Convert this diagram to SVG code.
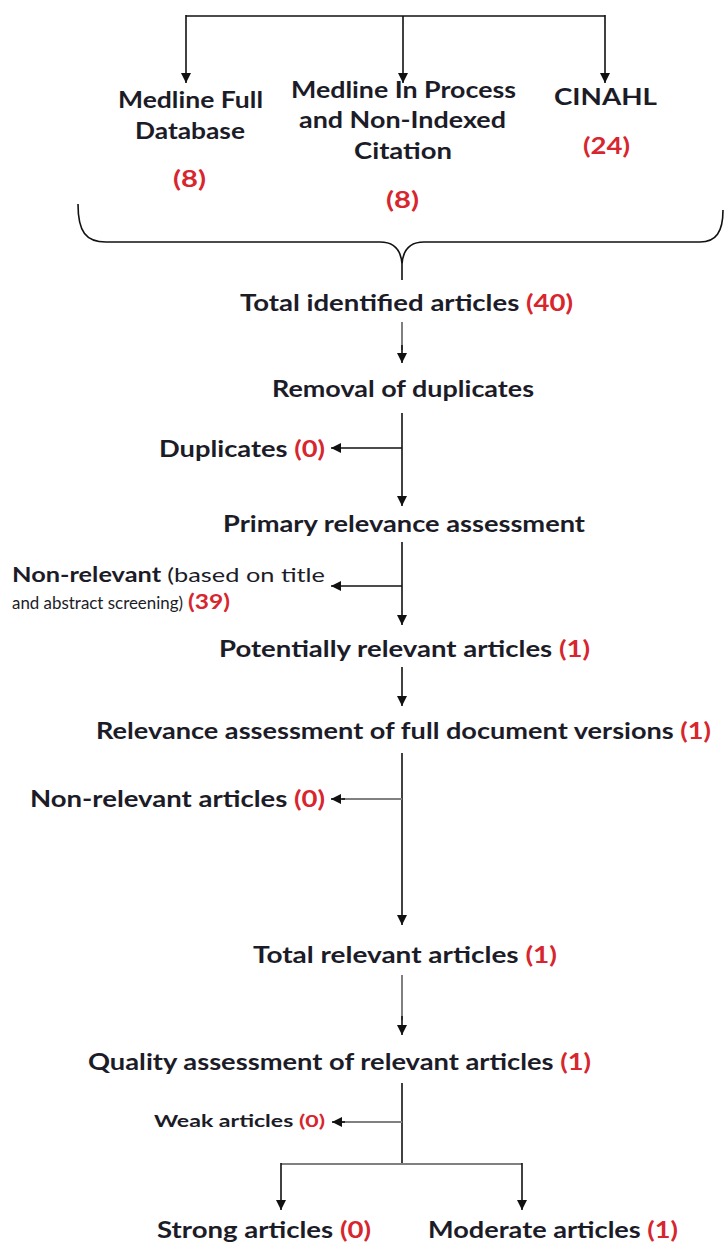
<svg xmlns="http://www.w3.org/2000/svg" width="724" height="1243" viewBox="0 0 724 1243">
<defs>
<style>
.s{font-family:Lato,"Liberation Sans",sans-serif;font-weight:bold;font-size:23px;fill:#1c1c28}
.n{font-weight:normal}
.r{fill:#d7262e}
.ln{fill:none;stroke:#111;stroke-width:1.6}
.lg{fill:none;stroke:#808080;stroke-width:2}
</style>
<marker id="ah" viewBox="0 0 10 10" refX="10" refY="5" markerWidth="10" markerHeight="10" markerUnits="userSpaceOnUse" orient="auto">
<path d="M0,0 L10,5 L0,10 Z" fill="#111"/>
</marker>
</defs>
<rect width="724" height="1243" fill="#fff"/>
<g id="connectors">
<path class="ln" d="M186,16 L605,16"/>
<path class="ln" d="M186,15 L186,83" marker-end="url(#ah)"/>
<path class="ln" d="M403,16 L403,83" marker-end="url(#ah)"/>
<path class="ln" d="M605,15 L605,83" marker-end="url(#ah)"/>
<path class="ln" d="M78,204 C78,232 86,242 106,242 L380,242 C394,242 401,250 402,264 L402,280 M402,264 C403,250 410,242 424,242 L700,242 C716,242 723,232 723,210"/>
<path class="lg" d="M402,322 L402,350"/>
<path class="ln" d="M402,345 L402,363" marker-end="url(#ah)"/>
<path class="ln" d="M402,413 L402,506" marker-end="url(#ah)"/>
<path class="ln" d="M402,448 L331,448" marker-end="url(#ah)"/>
<path class="ln" d="M402,542 L402,625" marker-end="url(#ah)"/>
<path class="ln" d="M402,586 L331,586" marker-end="url(#ah)"/>
<path class="ln" d="M402,667 L402,706" marker-end="url(#ah)"/>
<path class="ln" d="M402,753 L402,925" marker-end="url(#ah)"/>
<path class="lg" d="M402,799 L342,799"/>
<path class="ln" d="M345,799 L331,799" marker-end="url(#ah)"/>
<path class="lg" d="M402,975 L402,1020"/>
<path class="ln" d="M402,1016 L402,1035" marker-end="url(#ah)"/>
<path class="ln" d="M402,1083 L402,1164"/>
<path class="lg" d="M402,1122 L342,1122"/>
<path class="ln" d="M345,1122 L332,1122" marker-end="url(#ah)"/>
<path class="lg" d="M281,1164 L522,1164"/>
<path class="ln" d="M281,1163 L281,1210" marker-end="url(#ah)"/>
<path class="ln" d="M522,1163 L522,1210" marker-end="url(#ah)"/>
</g>
<g id="medline-full">
<text class="s" x="118" y="108" textLength="145" lengthAdjust="spacingAndGlyphs">Medline Full</text>
<text class="s" x="135" y="139" textLength="110" lengthAdjust="spacingAndGlyphs">Database</text>
<text class="s r" x="173" y="187" textLength="33" lengthAdjust="spacingAndGlyphs">(8)</text>
</g>
<g id="medline-in-process">
<text class="s" x="291" y="98" textLength="225" lengthAdjust="spacingAndGlyphs">Medline In Process</text>
<text class="s" x="299" y="128" textLength="207" lengthAdjust="spacingAndGlyphs">and Non-Indexed</text>
<text class="s" x="354" y="159" textLength="98" lengthAdjust="spacingAndGlyphs">Citation</text>
<text class="s r" x="386" y="208" textLength="33" lengthAdjust="spacingAndGlyphs">(8)</text>
</g>
<g id="cinahl">
<text class="s" x="554" y="105" textLength="103" lengthAdjust="spacingAndGlyphs">CINAHL</text>
<text class="s r" x="583" y="154" textLength="47" lengthAdjust="spacingAndGlyphs">(24)</text>
</g>
<g id="total-identified">
<text class="s" x="240" y="311" textLength="333" lengthAdjust="spacingAndGlyphs">Total identified articles <tspan class="r">(40)</tspan></text>
</g>
<g id="removal-duplicates">
<text class="s" x="272" y="397" textLength="262" lengthAdjust="spacingAndGlyphs">Removal of duplicates</text>
</g>
<g id="duplicates">
<text class="s" x="159" y="457" textLength="166" lengthAdjust="spacingAndGlyphs">Duplicates <tspan class="r">(0)</tspan></text>
</g>
<g id="primary-relevance">
<text class="s" x="223" y="532" textLength="362" lengthAdjust="spacingAndGlyphs">Primary relevance assessment</text>
</g>
<g id="non-relevant-screening">
<text class="s" x="12" y="582" textLength="313" lengthAdjust="spacingAndGlyphs" style="font-size:20px">Non-relevant <tspan class="n">(based on title</tspan></text>
<text class="s n" x="12" y="609" textLength="171" lengthAdjust="spacingAndGlyphs" style="font-size:17px">and abstract screening)</text>
<text class="s r" x="188" y="609" textLength="42" lengthAdjust="spacingAndGlyphs" style="font-size:20px">(39)</text>
</g>
<g id="potentially-relevant">
<text class="s" x="219" y="657" textLength="371" lengthAdjust="spacingAndGlyphs">Potentially relevant articles <tspan class="r">(1)</tspan></text>
</g>
<g id="full-document">
<text class="s" x="96" y="739" textLength="615" lengthAdjust="spacingAndGlyphs">Relevance assessment of full document versions <tspan class="r">(1)</tspan></text>
</g>
<g id="non-relevant-articles">
<text class="s" x="30" y="807" textLength="295" lengthAdjust="spacingAndGlyphs">Non-relevant articles <tspan class="r">(0)</tspan></text>
</g>
<g id="total-relevant">
<text class="s" x="253" y="963" textLength="304" lengthAdjust="spacingAndGlyphs">Total relevant articles <tspan class="r">(1)</tspan></text>
</g>
<g id="quality-assessment">
<text class="s" x="88" y="1070" textLength="503" lengthAdjust="spacingAndGlyphs">Quality assessment of relevant articles <tspan class="r">(1)</tspan></text>
</g>
<g id="weak">
<text class="s" x="154" y="1127" textLength="171" lengthAdjust="spacingAndGlyphs" style="font-size:17px">Weak articles <tspan class="r">(0)</tspan></text>
</g>
<g id="strong">
<text class="s" x="157" y="1238" textLength="214" lengthAdjust="spacingAndGlyphs">Strong articles <tspan class="r">(0)</tspan></text>
</g>
<g id="moderate">
<text class="s" x="428" y="1238" textLength="250" lengthAdjust="spacingAndGlyphs">Moderate articles <tspan class="r">(1)</tspan></text>
</g>
</svg>
